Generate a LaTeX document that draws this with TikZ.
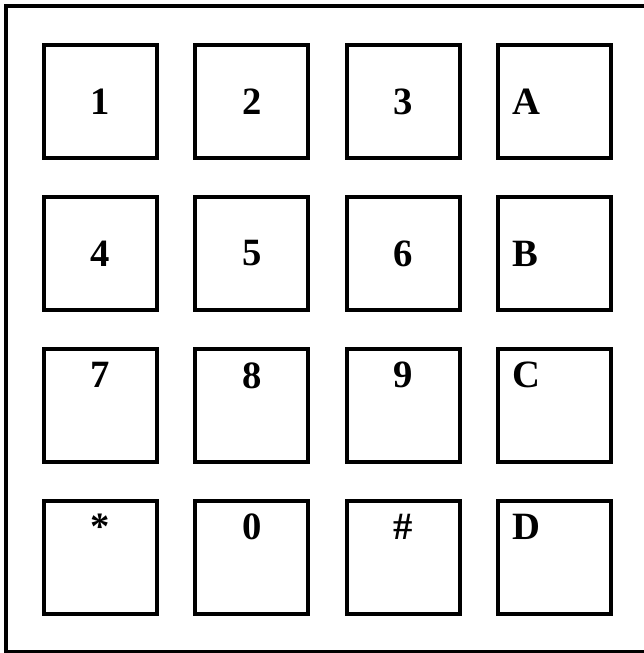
\documentclass[tikz,border=0pt]{standalone}
\usepackage{fontspec}
\setmainfont{Liberation Serif}
\usetikzlibrary{positioning}
\tikzset{
  key/.style={draw,line width=0.08cm,outer sep=0pt,inner sep=0pt,
    minimum width=2.26cm,minimum height=2.26cm,
    font=\fontsize{22}{24}\selectfont\bfseries},
  keytxt/.style={inner sep=0pt,font=\fontsize{22}{24}\selectfont\bfseries},
  sidekey/.style={key,label={[keytxt,anchor=west,xshift=0.28cm]west:#1}},
  topkey/.style={key,label={[keytxt,anchor=north,yshift=-0.26cm]north:#1}},
  cornerkey/.style={key,label={[keytxt,anchor=north west,xshift=0.28cm,
    yshift=-0.26cm]north west:#1}},
  frame/.style={line width=0.08cm}
}
\begin{document}
\begin{tikzpicture}[x=0.02cm,y=-0.02cm,node distance=0.78cm and 0.766cm]
  \useasboundingbox (0,0) rectangle (644,653);
  \draw[frame] (650,6) -- (6,6) -- (6,651.5) -- (650,651.5);
  % row 1
  \node[key] (k1) at (100.5,101.5) {1};
  \node[key,right=of k1] (k2) {2};
  \node[key,right=of k2] (k3) {3};
  \node[sidekey=A,right=of k3] (kA) {};
  % row 2
  \node[key,below=of k1] (k4) {4};
  \node[key,right=of k4] (k5) {5};
  \node[key,right=of k5] (k6) {6};
  \node[sidekey=B,right=of k6] (kB) {};
  % row 3
  \node[topkey=7,below=of k4] (k7) {};
  \node[topkey=8,right=of k7] (k8) {};
  \node[topkey=9,right=of k8] (k9) {};
  \node[cornerkey=C,right=of k9] (kC) {};
  % row 4
  \node[topkey=*,below=of k7] (kstar) {};
  \node[topkey=0,right=of kstar] (k0) {};
  \node[topkey=\#,right=of k0] (khash) {};
  \node[cornerkey=D,right=of khash] (kD) {};
\end{tikzpicture}
\end{document}
